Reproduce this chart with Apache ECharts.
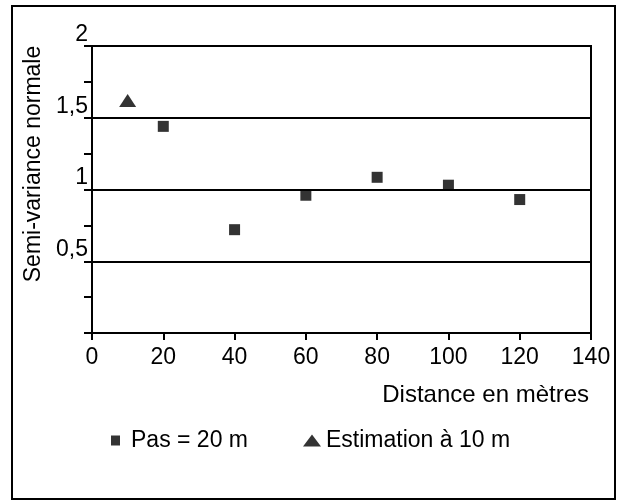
<!DOCTYPE html>
<html>
<head>
<meta charset="utf-8">
<script src="https://cdn.jsdelivr.net/npm/echarts@6/dist/echarts.min.js"></script>
<style>
  html, body { margin: 0; padding: 0; background: #fff; }
  #chart { width: 624px; height: 501px; }
</style>
</head>
<body>
<div id="chart"></div>
<script>
// données
var pasDistances = [20, 40, 60, 80, 100, 120];
var pasValues = [1.44, 0.72, 0.96, 1.085, 1.03, 0.93];
var estDistances = [10];
var estValues = [1.62];
var yTickLabels = { '0.5': '0,5', '1': '1', '1.5': '1,5', '2': '2' };

var font = 'Liberation Sans, Arial, sans-serif';

function pairs(xs, ys) {
  return xs.map(function (x, i) { return [x, ys[i]]; });
}

var chart = echarts.init(document.getElementById('chart'));
var option = {
  backgroundColor: '#fff',
  animation: false,
  textStyle: { fontFamily: font, color: '#000' },
  graphic: [
    {
      type: 'rect',
      shape: { x: 12, y: 6, width: 603, height: 493 },
      style: { fill: 'none', stroke: '#000', lineWidth: 2 }
    },
    {
      type: 'text',
      x: 34, y: 164,
      rotation: Math.PI / 2,
      style: {
        text: 'Semi-variance normale',
        fontSize: 23, fontFamily: font, fill: '#000',
        align: 'center', verticalAlign: 'middle'
      }
    }
  ],
  grid: {
    left: 92, right: 33, top: 46, bottom: 168,
    show: true, borderColor: '#000', borderWidth: 2
  },
  legend: [
    {
      left: 106, top: 424,
      icon: 'rect', itemWidth: 9, itemHeight: 10,
      textStyle: { fontSize: 23, fontFamily: font, color: '#000', padding: [0, 0, 0, 6] },
      data: ['Pas = 20 m']
    },
    {
      left: 298, top: 424,
      icon: 'triangle', itemWidth: 18, itemHeight: 12,
      textStyle: { fontSize: 23, fontFamily: font, color: '#000', padding: [0, 0, 0, 0] },
      data: ['Estimation à 10 m']
    }
  ],
  xAxis: {
    type: 'value',
    min: 0, max: 140, interval: 20,
    name: 'Distance en mètres',
    nameLocation: 'end',
    nameGap: -2,
    nameTextStyle: {
      fontSize: 24, fontFamily: font, color: '#000',
      align: 'right', verticalAlign: 'top', padding: [50, 0, 0, 0]
    },
    axisLine: { show: true, lineStyle: { color: '#000', width: 2 } },
    axisTick: { show: true, inside: false, length: 7, lineStyle: { color: '#000', width: 2 } },
    axisLabel: { fontSize: 23, fontFamily: font, color: '#000', margin: 13 },
    splitLine: { show: false }
  },
  yAxis: [
    {
      type: 'value',
      min: 0, max: 2, interval: 0.25,
      axisLine: { show: true, lineStyle: { color: '#000', width: 2 } },
      axisTick: { show: true, inside: false, length: 8, lineStyle: { color: '#000', width: 2 } },
      axisLabel: {
        fontSize: 23, fontFamily: font, color: '#000',
        margin: 4, verticalAlign: 'bottom',
        formatter: function (v) { return yTickLabels[String(v)] || ''; }
      },
      splitLine: { show: false }
    },
    {
      type: 'value',
      min: 0, max: 2, interval: 0.5,
      position: 'right',
      axisLine: { show: false },
      axisTick: { show: false },
      axisLabel: { show: false },
      splitLine: { show: true, lineStyle: { color: '#000', width: 2 } }
    }
  ],
  series: [
    {
      name: 'Pas = 20 m',
      type: 'scatter',
      symbol: 'rect',
      symbolSize: 11,
      itemStyle: { color: '#000' },
      data: pairs(pasDistances, pasValues)
    },
    {
      name: 'Estimation à 10 m',
      type: 'scatter',
      symbol: 'triangle',
      symbolSize: [17, 13],
      itemStyle: { color: '#000' },
      data: pairs(estDistances, estValues)
    }
  ]
};
chart.setOption(option);
window.addEventListener('resize', function () { chart.resize(); });
</script>
</body>
</html>
